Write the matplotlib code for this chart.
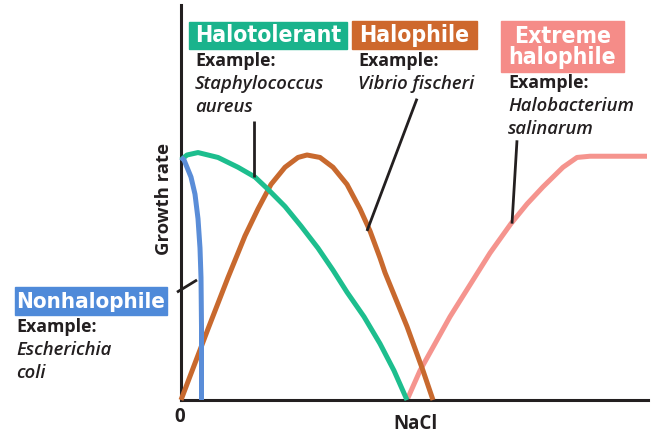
import matplotlib
matplotlib.use("Agg")
import matplotlib.pyplot as plt
from matplotlib.patches import Rectangle

W, H = 654, 436

# ---- data (x: NaCl, arbitrary units; y: relative growth rate) ----
nonhalo_x = [0, 3, 6, 10, 14, 17, 19, 20, 20.5, 20.5]
nonhalo_y = [0.99, 0.98, 0.95, 0.91, 0.84, 0.74, 0.62, 0.50, 0.30, 0.0]

halotol_x = [0, 6, 17, 27, 37, 47, 57, 74, 87, 104, 120, 137, 152, 166, 183, 199, 213, 226]
halotol_y = [0.98, 1.0, 1.01, 1.0, 0.99, 0.97, 0.95, 0.91, 0.86, 0.79, 0.71, 0.62, 0.53, 0.44, 0.34, 0.23, 0.12, 0.0]

halophile_x = [0, 27, 47, 55, 64, 77, 90, 104, 117, 126, 139, 152, 166, 179, 189, 199, 204, 226, 242, 252]
halophile_y = [0.0, 0.29, 0.50, 0.58, 0.67, 0.78, 0.88, 0.95, 0.99, 1.0, 0.99, 0.95, 0.88, 0.78, 0.69, 0.58, 0.52, 0.30, 0.12, 0.0]

extreme_x = [226, 239, 269, 289, 309, 330, 346, 362, 382, 396, 409, 466]
extreme_y = [0.0, 0.12, 0.34, 0.47, 0.60, 0.72, 0.80, 0.87, 0.95, 0.99, 0.995, 0.995]

series_colors = ["#5A8DD8", "#1DBE8E", "#C8692E", "#F5948E"]
box_colors = ["#4F8AD9", "#1AB38C", "#CE682D", "#F58C88"]

fig = plt.figure(figsize=(W / 100, H / 100), dpi=100)
# axes: origin at pixel (181,400), top at y=5, right at x=648
ax = fig.add_axes([181 / W, (H - 400) / H, (648 - 181) / W, (400 - 5) / H])
ax.set_xlim(0, 467)
ax.set_ylim(0, 395 / 245)
for s in ["top", "right"]:
    ax.spines[s].set_visible(False)
for s in ["left", "bottom"]:
    ax.spines[s].set_color("#231F20")
    ax.spines[s].set_linewidth(2.2)
ax.set_xticks([])
ax.set_yticks([])
ax.patch.set_alpha(0)

lw = 3.6
kw = dict(lw=lw, solid_capstyle="butt", solid_joinstyle="round", clip_on=False)
ax.plot(extreme_x, extreme_y, color=series_colors[3], **kw, zorder=2)
ax.plot(halophile_x, halophile_y, color=series_colors[2], **kw, zorder=3)
ax.plot(halotol_x, halotol_y, color=series_colors[1], **kw, zorder=4)
ax.plot(nonhalo_x, nonhalo_y, color=series_colors[0], **kw, zorder=5)

# leader lines
lk = dict(color="#231F20", lw=2.0, clip_on=False, zorder=6, solid_capstyle="butt")
ax.plot([-4, 16], [0.44, 0.49], **lk)
ax.plot([73, 73], [1.14, 0.91], **lk)
ax.plot([236, 186], [1.23, 0.69], **lk)
ax.plot([336, 331], [1.06, 0.72], **lk)


def fx(px):
    return px / W


def fy(py):
    return 1 - py / H


def box(x0, y0, x1, y1, color, label, size=16):
    fig.patches.append(Rectangle((fx(x0), fy(y1)), (x1 - x0) / W, (y1 - y0) / H,
                                 transform=fig.transFigure, color=color, zorder=1))
    fig.text(fx((x0 + x1) / 2), fy((y0 + y1) / 2 + 0.5), label, color="white",
             ha="center", va="center", family="DejaVu Sans", weight="bold",
             stretch="condensed", fontsize=size, linespacing=0.85)


box(189, 22, 347, 49, box_colors[1], "Halotolerant", 16.5)
box(352, 21, 477, 49, box_colors[2], "Halophile", 16.5)
box(501, 21, 624, 72, box_colors[3], "Extreme\nhalophile", 16.5)
box(15, 287, 167, 315, box_colors[0], "Nonhalophile", 16)

tc = "#231F20"
fam = "Open Sans"


def example(x, y, lines):
    fig.text(fx(x), fy(y), "Example:", ha="left", va="center", color=tc,
             family=fam, weight="bold", fontsize=12.8)
    for i, ln in enumerate(lines):
        fig.text(fx(x), fy(y + 23 * (i + 1)), ln, ha="left", va="center", color=tc,
                 family=fam, weight="semibold", style="italic", fontsize=13.3)


example(195, 61, ["Staphylococcus", "aureus"])
example(358, 61, ["Vibrio fischeri"])
example(508, 83, ["Halobacterium", "salinarum"])
example(16, 327, ["Escherichia", "coli"])

fig.text(fx(164), fy(199), "Growth rate", rotation=90, ha="center", va="center",
         color=tc, family=fam, weight="bold", fontsize=13.3)
fig.text(fx(415), fy(424), "NaCl", ha="center", va="center",
         color=tc, family=fam, weight="bold", fontsize=13.5)
fig.text(fx(180), fy(417), "0", ha="center", va="center",
         color=tc, family=fam, weight="bold", fontsize=13.5)

fig.savefig("out.png", dpi=100)
